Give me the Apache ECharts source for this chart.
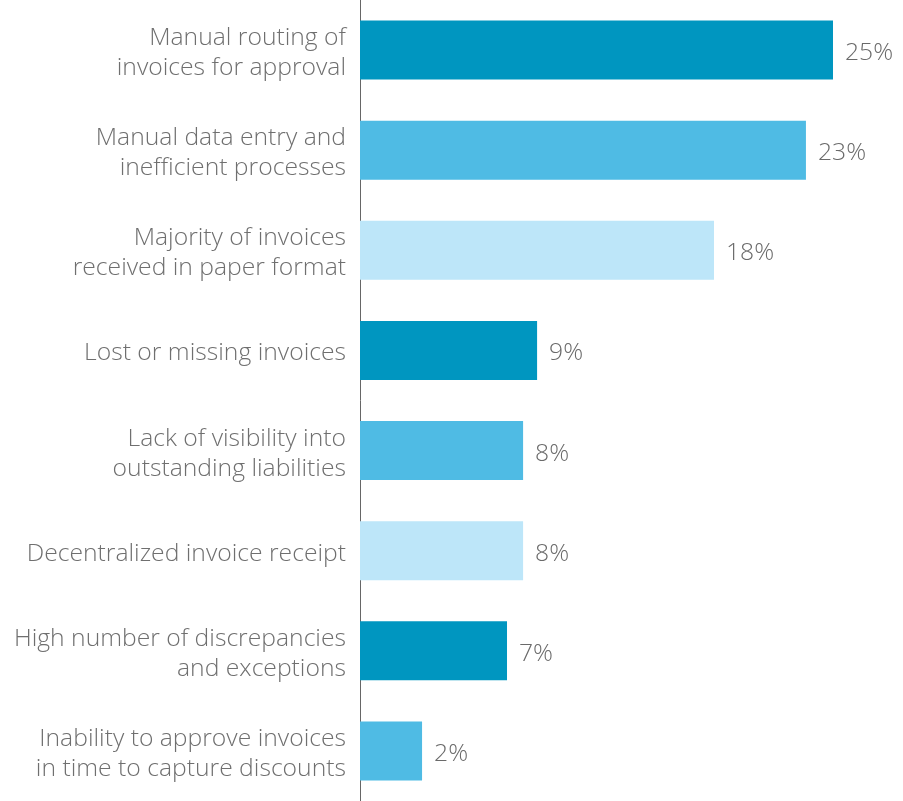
<!DOCTYPE html>
<html>
<head>
<meta charset="utf-8">
<script src="https://cdn.jsdelivr.net/npm/echarts@6/dist/echarts.min.js"></script>
<style>
html,body{margin:0;padding:0;background:#fff;}
#chart{width:903px;height:801px;}
</style>
</head>
<body>
<div id="chart"></div>
<script>
var categories = [
  "Manual routing of\ninvoices for approval",
  "Manual data entry and\ninefficient processes",
  "Majority of invoices\nreceived in paper format",
  "Lost or missing invoices",
  "Lack of visibility into\noutstanding liabilities",
  "Decentralized invoice receipt",
  "High number of discrepancies\nand exceptions",
  "Inability to approve invoices\nin time to capture discounts"
];
var values = [25, 23.57, 18.71, 9.36, 8.62, 8.62, 7.77, 3.28];
var valueLabels = ["25%", "23%", "18%", "9%", "8%", "8%", "7%", "2%"];
var barColors = ["#0096c0", "#4fbbe4", "#bde6f9", "#0096c0", "#4fbbe4", "#bde6f9", "#0096c0", "#4fbbe4"];

var chart = echarts.init(document.getElementById('chart'), null, {renderer: 'canvas'});
var font = "'Open Sans', 'Noto Sans', sans-serif";
chart.setOption({
  animation: false,
  grid: {left: 360, right: 70, top: 0, bottom: 0, containLabel: false},
  xAxis: {
    type: 'value', min: 0, max: 25, show: false
  },
  yAxis: {
    type: 'category',
    inverse: true,
    data: categories,
    axisLine: {show: true, lineStyle: {color: '#666666', width: 1}},
    axisTick: {show: false},
    splitLine: {show: false},
    axisLabel: {
      margin: 14,
      color: '#6f6f6f',
      fontFamily: font,
      fontWeight: 300,
      fontSize: 24.7,
      align: 'right',
      formatter: function (v) {
        return v.split('\n').map(function (s) { return '{a|' + s + '}'; }).join('\n');
      },
      rich: {
        a: {
          color: '#6f6f6f',
          fontFamily: font,
          fontWeight: 300,
          fontSize: 24.7,
          lineHeight: 30,
          padding: [6, 0, 0, 0],
          align: 'right'
        }
      }
    }
  },
  series: [{
    type: 'bar',
    barWidth: 59,
    data: values.map(function (v, i) {
      return {value: v, itemStyle: {color: barColors[i]}};
    }),
    label: {
      show: true,
      position: 'right',
      distance: 12,
      offset: [0, 3],
      color: '#6a6a6a',
      fontFamily: font,
      fontWeight: 300,
      fontSize: 24.7,
      formatter: function (p) { return valueLabels[p.dataIndex]; }
    }
  }]
});
</script>
</body>
</html>
